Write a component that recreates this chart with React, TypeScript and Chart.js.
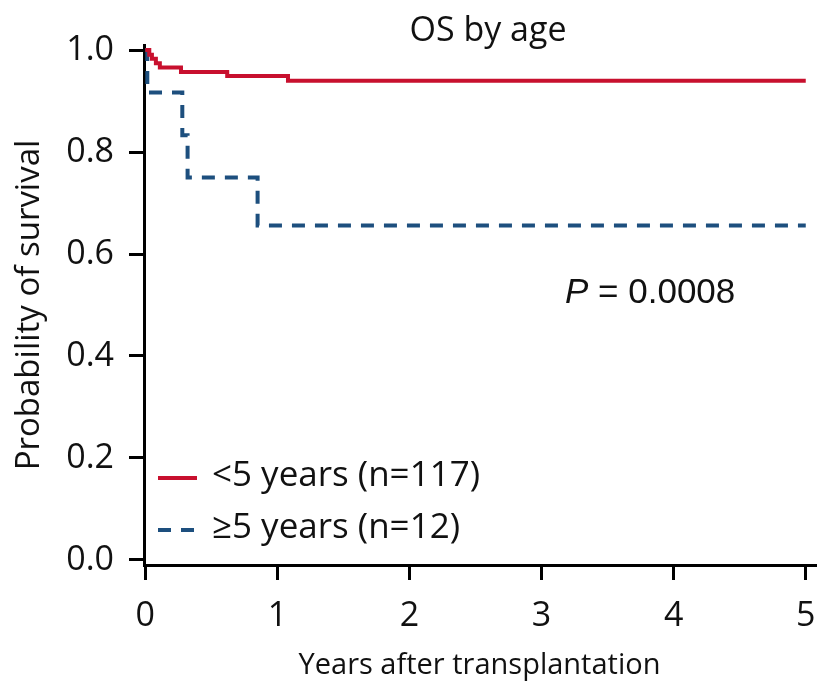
import React, { useEffect, useRef } from "react";
import { Chart, registerables } from "chart.js";

Chart.register(...registerables);

const seriesLabels = ["<5 years (n=117)", "\u22655 years (n=12)"];
const youngTimes = [0, 0.03, 0.05, 0.08, 0.11, 0.27, 0.62, 1.08, 5.0];
const youngSurvival = [1.0, 0.991, 0.983, 0.974, 0.966, 0.957, 0.949, 0.94, 0.94];
const olderTimes = [0, 0.015, 0.28, 0.32, 0.85, 5.0];
const olderSurvival = [1.0, 0.917, 0.833, 0.75, 0.656, 0.656];
const xTickValues = [0, 1, 2, 3, 4, 5];
const yTickValues = [0, 0.2, 0.4, 0.6, 0.8, 1.0];
const chartTitle = "OS by age";
const pValue = "0.0008";
const xAxisTitle = "Years after transplantation";
const yAxisTitle = "Probability of survival";

const RED = "#c8102e";
const BLUE = "#1d4f7e";
const FONT = "'Open Sans', 'Noto Sans', sans-serif";
const PFONT = "'Liberation Sans', Arial, sans-serif";

export default function App() {
  const ref = useRef<HTMLCanvasElement | null>(null);

  useEffect(() => {
    document.body.style.margin = "0";
    const canvas = ref.current;
    if (!canvas) return;

    const overlay = {
      id: "overlay",
      afterDraw(chart: any) {
        const ctx = chart.ctx;
        ctx.save();
        ctx.fillStyle = "#111";
        ctx.textBaseline = "middle";
        // title
        ctx.font = `34px ${FONT}`;
        ctx.textAlign = "center";
        ctx.fillText(chartTitle, 488, 31);
        // P value
        ctx.textAlign = "left";
        ctx.font = `italic 35px ${PFONT}`;
        ctx.fillText("P", 565, 293);
        const pw = ctx.measureText("P").width;
        ctx.font = `35px ${PFONT}`;
        ctx.fillText(" = " + pValue, 565 + pw, 293);
        // legend
        const ds = chart.data.datasets;
        const rows = [478, 530];
        ds.forEach((d: any, i: number) => {
          const y = rows[i];
          ctx.beginPath();
          ctx.strokeStyle = d.borderColor;
          ctx.lineWidth = d.borderWidth;
          ctx.setLineDash(d.borderDash || []);
          ctx.moveTo(158, y);
          ctx.lineTo(197, y);
          ctx.stroke();
          ctx.setLineDash([]);
          ctx.fillStyle = "#111";
          ctx.font = `35px ${FONT}`;
          ctx.fillText(d.label, 212, y - 2);
        });
        ctx.restore();
      },
    };

    const chart = new Chart(canvas, {
      type: "line",
      data: {
        datasets: [
          {
            label: seriesLabels[0],
            data: youngTimes.map((t, i) => ({ x: t, y: youngSurvival[i] })),
            borderColor: RED,
            borderWidth: 4,
            stepped: true,
            pointRadius: 0,
            fill: false,
          },
          {
            label: seriesLabels[1],
            data: olderTimes.map((t, i) => ({ x: t, y: olderSurvival[i] })),
            borderColor: BLUE,
            borderWidth: 4,
            borderDash: [13, 10],
            stepped: true,
            pointRadius: 0,
            fill: false,
          },
        ],
      },
      options: {
        animation: false,
        responsive: false,
        layout: { padding: { top: 45, right: 25, left: 0, bottom: 0 } },
        plugins: {
          legend: { display: false },
          title: { display: false },
          tooltip: { enabled: false },
        },
        scales: {
          x: {
            type: "linear",
            min: -0.01,
            max: 5.07,
            afterBuildTicks: (s: any) => {
              s.ticks = xTickValues.map((v) => ({ value: v }));
            },
            afterFit: (s: any) => {
              s.height = 123;
            },
            ticks: {
              color: "#111",
              font: { family: FONT, size: 34 },
              padding: 16,
              maxRotation: 0,
              callback: (v: any) => String(v),
            },
            grid: {
              display: true,
              drawOnChartArea: false,
              drawTicks: true,
              tickLength: 15,
              color: "#000",
              lineWidth: 3,
            },
            border: { display: true, color: "#000", width: 3 },
            title: {
              display: true,
              text: xAxisTitle,
              color: "#111",
              font: { family: FONT, size: 29 },
              padding: { top: 0, bottom: 5 },
            },
          },
          y: {
            type: "linear",
            min: -0.01,
            max: 1.01,
            afterBuildTicks: (s: any) => {
              s.ticks = yTickValues.map((v) => ({ value: v }));
            },
            afterFit: (s: any) => {
              s.width = 144;
            },
            ticks: {
              color: "#111",
              font: { family: FONT, size: 34 },
              padding: 15,
              callback: (v: any) => Number(v).toFixed(1),
            },
            grid: {
              display: true,
              drawOnChartArea: false,
              drawTicks: true,
              tickLength: 15,
              color: "#000",
              lineWidth: 3,
            },
            border: { display: true, color: "#000", width: 3 },
            title: {
              display: true,
              text: yAxisTitle,
              color: "#111",
              font: { family: FONT, size: 33 },
              padding: { top: 10, bottom: 0 },
            },
          },
        },
      },
      plugins: [overlay],
    } as any);

    return () => chart.destroy();
  }, []);

  return <canvas ref={ref} width={840} height={688} style={{ display: "block", width: 840, height: 688 }} />;
}
